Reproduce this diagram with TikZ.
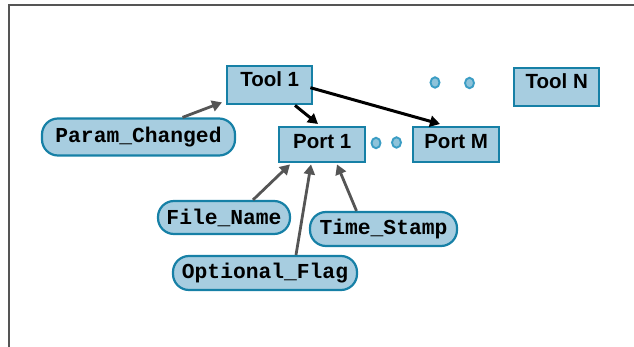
\documentclass[tikz,border=0pt]{standalone}
\usepackage{fontspec}
\setmainfont{Liberation Sans}
\setmonofont{Liberation Mono}
\usetikzlibrary{arrows.meta}
\definecolor{boxfill}{HTML}{A7CDE0}
\definecolor{boxline}{HTML}{1680A6}
\definecolor{dotfill}{HTML}{8EC3DA}
\definecolor{dotline}{HTML}{3B9DC4}
\definecolor{attrarrow}{HTML}{555555}
\definecolor{frameline}{HTML}{555555}
\tikzset{
  toolbox/.style={draw=boxline, fill=boxfill, line width=2.4pt, inner sep=0pt,
    font=\fontsize{20.5}{22}\selectfont\bfseries, anchor=north west},
  attr/.style={draw=boxline, fill=boxfill, line width=2.2pt, rounded corners=16pt,
    inner sep=0pt, font=\fontsize{21.3}{23}\selectfont\ttfamily\bfseries},
  dotmark/.style={draw=dotline, fill=dotfill, line width=1.9pt},
  feed/.style={draw=attrarrow, line width=2.8pt, -{Triangle[length=10pt,width=11pt]}},
  link/.style={draw=black, line width=3pt, -{Triangle[length=10pt,width=11pt]}},
}
\begin{document}
\begin{tikzpicture}[x=1pt,y=-1pt]
  \useasboundingbox (0,0) rectangle (634,347);
  % outer frame, running past the right and bottom edges
  \begin{scope}
    \clip (0,0) rectangle (634,347);
    \draw[frameline, line width=2.2pt] (9,5) rectangle (650,360);
  \end{scope}

  % tools and ports
  \node[toolbox, minimum width=85pt, minimum height=38pt, text depth=14pt, text height=16pt] (tool1) at (226,65) {Tool 1};
  \node[toolbox, minimum width=85pt, minimum height=38pt, text depth=14pt, text height=16pt] (tooln) at (513,67) {Tool N};
  \node[toolbox, minimum width=86pt, minimum height=35pt, text depth=9pt, text height=17pt] (port1) at (278,126) {Port 1};
  \node[toolbox, minimum width=86pt, minimum height=35pt, text depth=9pt, text height=17pt] (portm) at (412,126) {Port M};

  % attributes
  \node[attr, minimum width=193pt, minimum height=37pt] (param) at (138.5,137) {Param\_Changed};
  \node[attr, minimum width=132pt, minimum height=33pt] (file) at (224,217.5) {File\_Name};
  \node[attr, minimum width=147pt, minimum height=34pt] (time) at (383.5,229) {Time\_Stamp};
  \node[attr, minimum width=184pt, minimum height=34pt] (flag) at (265,273) {Optional\_Flag};

  % ellipsis dots
  \draw[dotmark] (376,143) ellipse (4.5pt and 5.2pt);
  \draw[dotmark] (396.5,142.5) ellipse (4.5pt and 5.2pt);
  \draw[dotmark] (435,82.5) ellipse (4.5pt and 5.2pt);
  \draw[dotmark] (469.5,83) ellipse (4.5pt and 5.2pt);

  % tool to its ports
  \draw[link] ([xshift=69pt]tool1.south west) -- ([xshift=40pt,yshift=2pt]port1.north west);
  \draw[link] ([xshift=-3pt,yshift=-2.5pt]tool1.east) -- ([xshift=28pt,yshift=2pt]portm.north west);
  % attributes feeding tool and port
  \draw[feed] ([xshift=44pt]param.north) -- ([xshift=-4pt,yshift=3pt]tool1.south west);
  \draw[feed] ([xshift=29pt]file.north) -- ([xshift=12pt,yshift=-1pt]port1.south west);
  \draw[feed] ([xshift=31pt]flag.north) -- ([xshift=33pt,yshift=-1pt]port1.south west);
  \draw[feed] ([xshift=-27pt]time.north) -- ([xshift=59pt,yshift=-1pt]port1.south west);
\end{tikzpicture}
\end{document}
